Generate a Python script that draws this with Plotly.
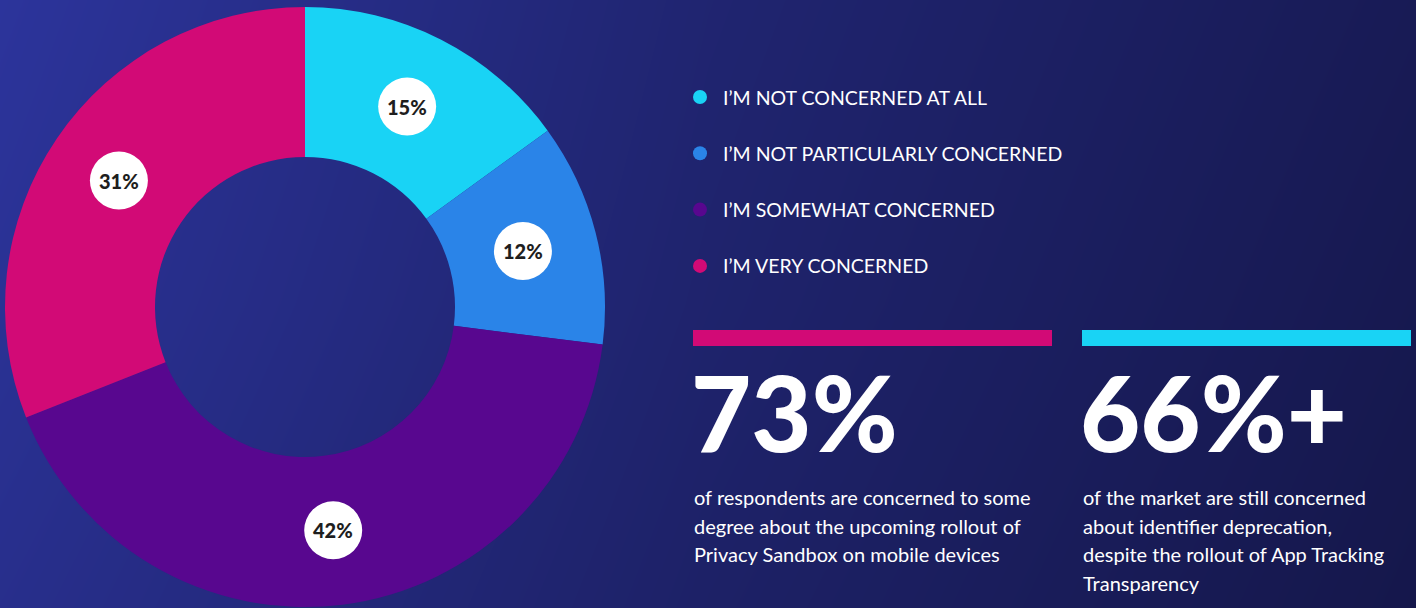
import math
import plotly.graph_objects as go

# data
answers = ["I’M NOT CONCERNED AT ALL", "I’M NOT PARTICULARLY CONCERNED",
           "I’M SOMEWHAT CONCERNED", "I’M VERY CONCERNED"]
shares = [15, 12, 42, 31]
colors = ["#19D3F5", "#2A84E8", "#58078F", "#D20A76"]

stats = ["73%", "66%+"]
stat_colors = ["#D20A76", "#19D3F5"]
stat_notes = [
    ["of respondents are concerned to some", "degree about the upcoming rollout of",
     "Privacy Sandbox on mobile devices"],
    ["of the market are still concerned", "about identifier deprecation,",
     "despite the rollout of App Tracking", "Transparency"],
]

W, H = 1416, 608
FONT = "Lato"

fig = go.Figure()

# background gradient
fig.add_trace(go.Heatmap(
    x=[0, W / 2, W], y=[0, H / 2, H],
    z=[[1.0, 0.5, 0.18], [0.92, 0.45, 0.12], [0.82, 0.38, 0.06]],
    colorscale=[[0, "#15174B"], [1, "#2C349B"]],
    zsmooth="best", showscale=False, hoverinfo="skip",
))

# donut (top edge a few px below the page top)
cx, R, top = 305, 300, 6
cy = top + (H - top) / 2
fig.add_trace(go.Pie(
    labels=answers, values=shares, hole=0.5, sort=False, direction="clockwise",
    rotation=0, textinfo="none", showlegend=False,
    marker=dict(colors=colors, line=dict(width=0)),
    domain=dict(x=[(cx - R) / W, (cx + R) / W], y=[0, 1 - top / H]),
))

shapes = []
annotations = []

# value labels in white circles
total = sum(shares)
cum = 0
for v in shares:
    mid = (cum + v / 2) / total * 2 * math.pi
    cum += v
    lx = cx + 0.75 * R * math.sin(mid)
    ly = cy - 0.75 * R * math.cos(mid)
    shapes.append(dict(type="circle", xref="x", yref="y", layer="above",
                       x0=lx - 29, x1=lx + 29, y0=ly - 29, y1=ly + 29,
                       fillcolor="white", line=dict(width=0)))
    annotations.append(dict(x=lx, y=ly, xref="x", yref="y", text=f"{v}%",
                            showarrow=False,
                            font=dict(family=FONT, size=20, color="#1E1E1E", weight=900)))

# legend
leg_y = [97 + 56.3 * i for i in range(len(answers))]
fig.add_trace(go.Scatter(
    x=[700] * len(answers), y=leg_y, mode="markers", hoverinfo="skip",
    marker=dict(size=14, color=colors, line=dict(width=0)), showlegend=False,
))
for a, y in zip(answers, leg_y):
    annotations.append(dict(x=721, y=y, xref="x", yref="y", text=a, showarrow=False,
                            xanchor="left", yanchor="middle",
                            font=dict(family=FONT, size=19.5, color="white")))

# stat blocks
col_x = [693, 1082]
col_end = [1052, 1411]
for x0, x1, s, c, notes in zip(col_x, col_end, stats, stat_colors, stat_notes):
    shapes.append(dict(type="rect", xref="x", yref="y", x0=x0, x1=x1, y0=330, y1=346,
                       fillcolor=c, line=dict(width=0), layer="above"))
    annotations.append(dict(x=x0 - 4, y=411, xref="x", yref="y", text=s, showarrow=False,
                            xanchor="left", yanchor="middle",
                            font=dict(family=FONT, size=104, color="white", weight=900)))
    for i, line in enumerate(notes):
        annotations.append(dict(x=x0 - 1, y=497 + 28.5 * i, xref="x", yref="y", text=line,
                                showarrow=False, xanchor="left", yanchor="middle",
                                font=dict(family=FONT, size=20, color="white")))

fig.update_layout(
    width=W, height=H, margin=dict(l=0, r=0, t=0, b=0),
    paper_bgcolor="#1E2370", plot_bgcolor="#1E2370",
    xaxis=dict(range=[0, W], visible=False, fixedrange=True),
    yaxis=dict(range=[H, 0], visible=False, fixedrange=True),
    shapes=shapes, annotations=annotations,
)

fig.write_html("out.html", config={"displayModeBar": False},
               post_script="document.body.style.margin='0';document.body.style.overflow='hidden';")
